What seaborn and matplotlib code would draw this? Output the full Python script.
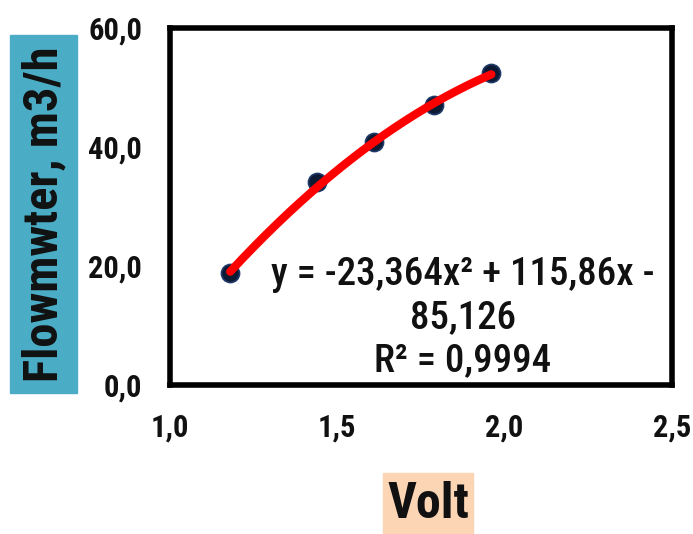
import numpy as np
import pandas as pd
import seaborn as sns
import matplotlib
matplotlib.use("Agg")
import matplotlib.pyplot as plt
from matplotlib.patches import Rectangle

# Measured points
volt = [1.18, 1.44, 1.61, 1.79, 1.96]
flow = [18.9, 34.2, 40.9, 47.1, 52.4]

# Second-order trendline coefficients (a*x^2 + b*x + c) and its R²
coef = [-23.364, 115.86, -85.126]
r2 = 0.9994

x_ticks = [1.0, 1.5, 2.0, 2.5]
y_ticks = [0.0, 20.0, 40.0, 60.0]

sns.set_theme(style="white")
plt.rcParams["font.family"] = ["Roboto Condensed", "DejaVu Sans"]

W, H = 693, 534
fig = plt.figure(figsize=(W / 100, H / 100), dpi=100)
ax = fig.add_axes([170 / W, 1 - 385 / H, (672 - 170) / W, (385 - 28) / H])

df = pd.DataFrame({"Volt": volt, "Flow": flow})

# trendline evaluated from the stated coefficients
xs = np.linspace(min(volt), max(volt), 200)
ys = np.polyval(coef, xs)
sns.scatterplot(data=df, x="Volt", y="Flow", ax=ax, s=170, color="#0d1a33",
                edgecolor="#1f3a6b", linewidth=1.2, zorder=3)
sns.lineplot(x=xs, y=ys, ax=ax, color="#ff0000", linewidth=6, zorder=4)

ax.set_xlim(1.0, 2.5)
ax.set_ylim(0, 60)
ax.set_xticks(x_ticks)
ax.set_yticks(y_ticks)
ax.set_xticklabels([f"{v:.1f}".replace(".", ",") for v in x_ticks])
ax.set_yticklabels([f"{v:.1f}".replace(".", ",") for v in y_ticks])
ax.tick_params(axis="both", direction="inout", length=20, width=4, color="black",
               labelsize=22, labelcolor="#111111")
ax.tick_params(axis="x", pad=10)
ax.tick_params(axis="y", pad=10)
for lab in ax.get_xticklabels() + ax.get_yticklabels():
    lab.set_fontweight("bold")
for sp in ax.spines.values():
    sp.set_linewidth(4)
    sp.set_color("black")

eq = (f"y = {coef[0]:.3f}x² + {coef[1]:.2f}x -\n{abs(coef[2]):.3f}\nR² = {r2:.4f}").replace(".", ",")
ax.text(1.875, 21.6, eq, ha="center", va="top", fontsize=28, fontweight="medium",
        color="#111111", linespacing=1.2, zorder=5)

# coloured axis-title boxes
fig.add_artist(Rectangle((10 / W, 1 - 393 / H), 67 / W, 358 / H,
                         transform=fig.transFigure, color="#4bacc6", zorder=0))
fig.add_artist(Rectangle((383 / W, 0), 90 / W, 61 / H,
                         transform=fig.transFigure, color="#fcd5b4", zorder=0))

ax.set_ylabel("Flowmwter, m3/h", fontsize=35, fontweight="bold", color="#111111",
              va="center", ha="center")
ax.yaxis.set_label_coords(44 / W, 1 - 214 / H, transform=fig.transFigure)
ax.set_xlabel("Volt", fontsize=36, fontweight="bold", color="#111111",
              va="center", ha="center")
ax.xaxis.set_label_coords(428 / W, 1 - 504 / H, transform=fig.transFigure)

fig.savefig("out.png", dpi=100)
